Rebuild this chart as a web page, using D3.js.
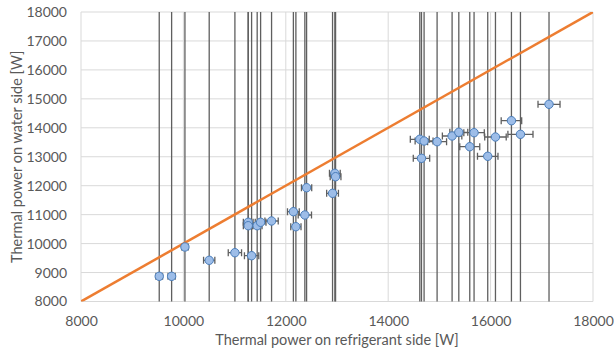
<!DOCTYPE html>
<html><head><meta charset="utf-8">
<script src="https://cdn.jsdelivr.net/npm/d3@7"></script>
<style>html,body{margin:0;padding:0;background:#fff;}svg{display:block;}</style>
</head><body>
<svg id="chart" width="614" height="352"></svg>
<script>
// Data
const refrigerantPower = [9528, 9770, 10030, 10504, 11006, 11332, 11266, 11266, 11441, 11508, 11722, 12148, 12197, 12372, 12406, 12913, 12958, 12972, 14650, 14617, 14701, 14955, 15248, 15379, 15593, 15677, 15944, 16095, 16407, 16583, 17141];
const waterPower = [8870, 8870, 9883, 9423, 9686, 9582, 10736, 10618, 10618, 10736, 10781, 11102, 10584, 10988, 11931, 11737, 12428, 12311, 12946, 13603, 13544, 13520, 13717, 13845, 13347, 13831, 13016, 13682, 14245, 13775, 14812];
const refrigerantErr = [65, 70, 65, 110, 130, 140, 95, 95, 95, 105, 130, 115, 100, 130, 100, 115, 105, 105, 160, 185, 175, 185, 190, 175, 195, 200, 200, 210, 200, 245, 215];
const waterErr = [10000, 10000, 10000, 10000, 10000, 10000, 10000, 10000, 10000, 10000, 10000, 10000, 10000, 10000, 10000, 10000, 10000, 10000, 10000, 10000, 10000, 10000, 10000, 10000, 10000, 10000, 10000, 10000, 10000, 10000, 10000];
const identityLine = [8000, 18000];
const xTicks = [8000, 10000, 12000, 14000, 16000, 18000];
const yTicks = [8000, 9000, 10000, 11000, 12000, 13000, 14000, 15000, 16000, 17000, 18000];

const points = refrigerantPower.map((x, i) => ({x, y: waterPower[i], ex: refrigerantErr[i], ey: waterErr[i]}));

const svg = d3.select("#chart");
const m = {left: 81, right: 21, top: 12, bottom: 50.5};
const W = 614, H = 352;
const x = d3.scaleLinear().domain([8000, 18000]).range([m.left, W - m.right]);
const y = d3.scaleLinear().domain([8000, 18000]).range([H - m.bottom, m.top]);
const font = "Lato, 'Open Sans', sans-serif";
const textCol = "#595959";

svg.append("defs").append("clipPath").attr("id", "clip")
  .append("rect").attr("x", m.left).attr("y", m.top)
  .attr("width", x(18000) - x(8000)).attr("height", y(8000) - y(18000));

// gridlines
const grid = svg.append("g");
grid.selectAll("line.h").data(yTicks).join("line")
  .attr("x1", x(8000)).attr("x2", x(18000))
  .attr("y1", d => y(d)).attr("y2", d => y(d))
  .attr("stroke", "#d9d9d9").attr("stroke-width", 1);
grid.selectAll("line.v").data(xTicks).join("line")
  .attr("y1", y(8000)).attr("y2", y(18000))
  .attr("x1", d => x(d)).attr("x2", d => x(d))
  .attr("stroke", "#d9d9d9").attr("stroke-width", 1);

// axes labels via d3 axes
const xAxis = svg.append("g").attr("transform", `translate(0,${y(8000)})`)
  .call(d3.axisBottom(x).tickValues(xTicks).tickSize(0).tickPadding(15).tickFormat(d3.format("d")));
const yAxis = svg.append("g").attr("transform", `translate(${x(8000)},0)`)
  .call(d3.axisLeft(y).tickValues(yTicks).tickSize(0).tickPadding(14).tickFormat(d3.format("d")));
[xAxis, yAxis].forEach(a => {
  a.select(".domain").remove();
  a.selectAll("text").attr("fill", textCol).style("font-family", font).style("font-size", "14px");
});

const plot = svg.append("g").attr("clip-path", "url(#clip)");

// vertical error bars
plot.selectAll("line.ey").data(points).join("line")
  .attr("x1", d => x(d.x)).attr("x2", d => x(d.x))
  .attr("y1", d => y(d.y - d.ey)).attr("y2", d => y(d.y + d.ey))
  .attr("stroke", "#5f5f5f").attr("stroke-width", 1.3);

// horizontal error bars
const hb = plot.selectAll("g.ex").data(points).join("g");
hb.append("line")
  .attr("x1", d => x(d.x - d.ex)).attr("x2", d => x(d.x + d.ex))
  .attr("y1", d => y(d.y)).attr("y2", d => y(d.y))
  .attr("stroke", "#5f5f5f").attr("stroke-width", 1.3);
hb.append("line")
  .attr("x1", d => x(d.x - d.ex)).attr("x2", d => x(d.x - d.ex))
  .attr("y1", d => y(d.y) - 3.5).attr("y2", d => y(d.y) + 3.5)
  .attr("stroke", "#5f5f5f").attr("stroke-width", 1.3);
hb.append("line")
  .attr("x1", d => x(d.x + d.ex)).attr("x2", d => x(d.x + d.ex))
  .attr("y1", d => y(d.y) - 3.5).attr("y2", d => y(d.y) + 3.5)
  .attr("stroke", "#5f5f5f").attr("stroke-width", 1.3);

// identity line
plot.append("line")
  .attr("x1", x(identityLine[0])).attr("y1", y(identityLine[0]))
  .attr("x2", x(identityLine[1])).attr("y2", y(identityLine[1]))
  .attr("stroke", "#ed7d31").attr("stroke-width", 2.5);

// markers
svg.append("g").selectAll("circle").data(points).join("circle")
  .attr("cx", d => x(d.x)).attr("cy", d => y(d.y)).attr("r", 4.2)
  .attr("fill", "#9dbde8").attr("stroke", "#4a7ebb").attr("stroke-width", 1);

// titles
svg.append("text").attr("x", (x(8000) + x(18000)) / 2).attr("y", 345)
  .attr("text-anchor", "middle").attr("fill", textCol)
  .style("font-family", font).style("font-size", "14.5px")
  .text("Thermal power on refrigerant side [W]");
svg.append("text").attr("transform", `translate(22,${(y(8000) + y(18000)) / 2}) rotate(-90)`)
  .attr("text-anchor", "middle").attr("fill", textCol)
  .style("font-family", font).style("font-size", "14.5px")
  .text("Thermal power on water side [W]");
</script>
</body></html>
